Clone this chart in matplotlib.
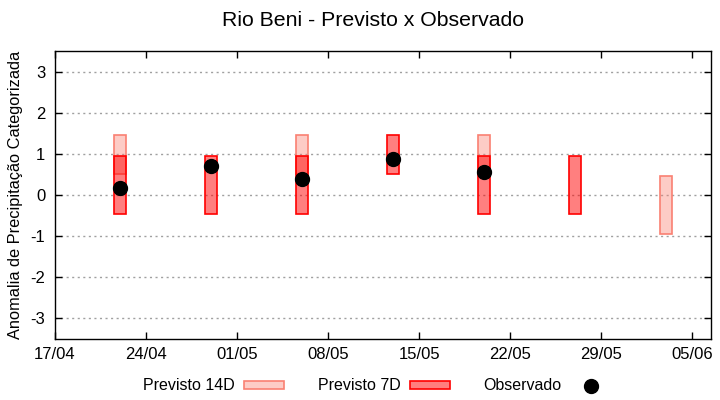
import matplotlib
matplotlib.use('Agg')
import matplotlib.pyplot as plt
import matplotlib.dates as mdates
from matplotlib.patches import Patch
from matplotlib.lines import Line2D
import numpy as np
from datetime import datetime, timedelta

plt.rcParams['font.family'] = ['Liberation Sans', 'DejaVu Sans']
plt.rcParams['axes.unicode_minus'] = False

# previsao 14 dias (inicio da caixa, fim da caixa)
datas_14d = ['2023-04-22', '2023-05-06', '2023-05-20', '2023-06-03']
inf_14d = [0.5, 0.5, 0.5, -0.95]
sup_14d = [1.45, 1.45, 1.45, 0.45]

# previsao 7 dias
datas_7d = ['2023-04-22', '2023-04-29', '2023-05-06', '2023-05-13', '2023-05-20', '2023-05-27']
inf_7d = [-0.45, -0.45, -0.45, 0.5, -0.45, -0.45]
sup_7d = [0.95, 0.95, 0.95, 1.45, 0.95, 0.95]

# observado
datas_obs = ['2023-04-22', '2023-04-29', '2023-05-06', '2023-05-13', '2023-05-20']
obs = [0.16, 0.70, 0.38, 0.87, 0.55]

ticks_x = ['2023-04-17', '2023-04-24', '2023-05-01', '2023-05-08', '2023-05-15',
           '2023-05-22', '2023-05-29', '2023-06-05']

def para_data(lst):
    return [datetime.strptime(d, '%Y-%m-%d') for d in lst]

d14 = para_data(datas_14d)
d7 = para_data(datas_7d)
dob = para_data(datas_obs)
dt = para_data(ticks_x)

fig = plt.figure(figsize=(7.2, 4), dpi=100)
ax = fig.add_axes([55/720, 1-339/400, 656/720, 288/400])

cor14 = (250/255, 128/255, 114/255)
ax.bar(d14, np.array(sup_14d)-np.array(inf_14d), bottom=inf_14d, width=0.9,
       color=cor14 + (0.4,), edgecolor=cor14, linewidth=1.2, zorder=2)
ax.bar(d7, np.array(sup_7d)-np.array(inf_7d), bottom=inf_7d, width=0.9,
       color=(1, 0, 0, 0.5), edgecolor='red', linewidth=1.2, zorder=3)
ax.plot(dob, obs, 'o', color='black', markersize=10, zorder=4, linestyle='none')

ax.set_ylim(-3.5, 3.5)
ax.set_yticks([-3, -2, -1, 0, 1, 2, 3])
ax.set_xlim(dt[0], dt[-1] + timedelta(days=1.45))
ax.set_xticks(dt)
ax.xaxis.set_major_formatter(mdates.DateFormatter('%d/%m'))
ax.tick_params(direction='in', top=True, right=True, labelsize=12, length=5, width=1)
ax.tick_params(axis='x', pad=6)
ax.tick_params(axis='y', pad=7)
ax.grid(axis='y', color='#a0a0a0', linestyle=(0, (1.5, 2.5)), linewidth=1)
for s in ax.spines.values():
    s.set_linewidth(1)

ax.set_ylabel('Anomalia de Precipitação Categorizada', fontsize=11.8, labelpad=5)
fig.text(373/720, 1-20/400, 'Rio Beni - Previsto x Observado', ha='center', va='center', fontsize=15.3)

handles = [Patch(facecolor=cor14 + (0.4,), edgecolor=cor14, linewidth=1.2),
           Patch(facecolor=(1, 0, 0, 0.5), edgecolor='red', linewidth=1.2),
           Line2D([], [], marker='o', color='black', markersize=10, linestyle='none')]
fig.legend(handles, ['Previsto 14D', 'Previsto 7D', 'Observado'], ncol=3,
           loc='center', bbox_to_anchor=(377/720, 1-386/400), frameon=False,
           markerfirst=False, fontsize=11.5, handlelength=2.5, handleheight=0.45,
           handletextpad=0.6, columnspacing=2.1)

fig.savefig('out.png', dpi=100)
